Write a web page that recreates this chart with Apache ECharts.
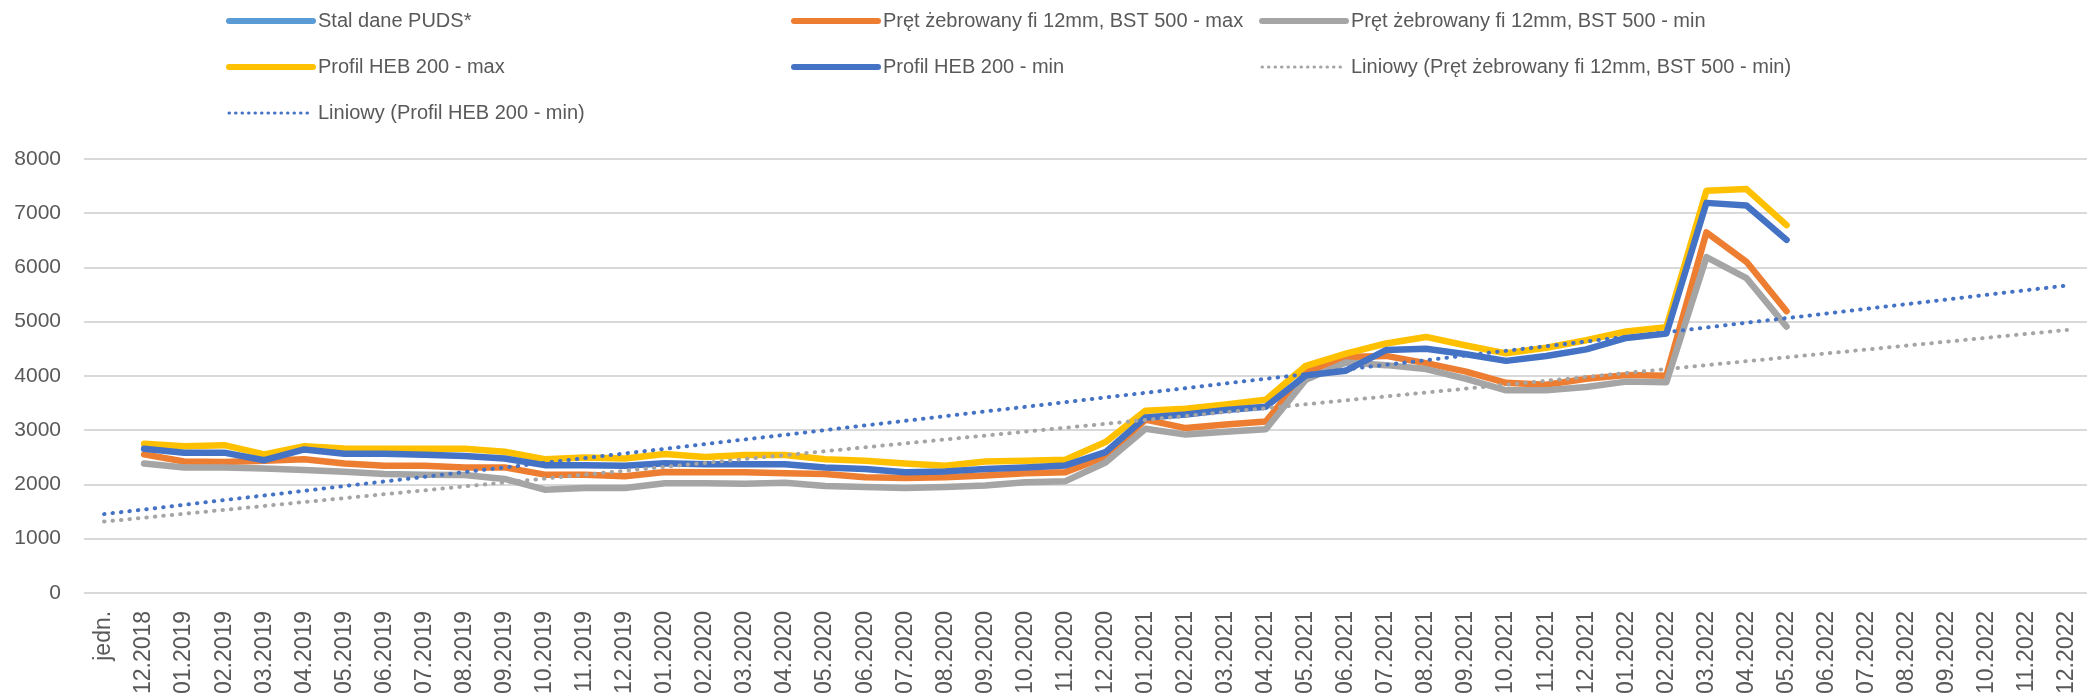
<!DOCTYPE html>
<html>
<head>
<meta charset="utf-8">
<script src="https://cdn.jsdelivr.net/npm/echarts@6/dist/echarts.min.js"></script>
<style>
  html, body { margin: 0; padding: 0; background: #fff; }
  #chart { width: 2087px; height: 697px; }
</style>
</head>
<body>
<div id="chart"></div>
<script>
// kategorie osi X
const months = [
  "jedn.", "12.2018",
  "01.2019", "02.2019", "03.2019", "04.2019", "05.2019", "06.2019",
  "07.2019", "08.2019", "09.2019", "10.2019", "11.2019", "12.2019",
  "01.2020", "02.2020", "03.2020", "04.2020", "05.2020", "06.2020",
  "07.2020", "08.2020", "09.2020", "10.2020", "11.2020", "12.2020",
  "01.2021", "02.2021", "03.2021", "04.2021", "05.2021", "06.2021",
  "07.2021", "08.2021", "09.2021", "10.2021", "11.2021", "12.2021",
  "01.2022", "02.2022", "03.2022", "04.2022", "05.2022", "06.2022",
  "07.2022", "08.2022", "09.2022", "10.2022", "11.2022", "12.2022",
];

// serie (od 12.2018 do 05.2022, "jedn." puste)
const stalPuds = [];
const pretMax = [null,
  2554, 2421, 2415, 2434, 2464, 2385, 2343, 2343, 2313, 2313, 2180, 2180, 2150,
  2230, 2222, 2222, 2204, 2192, 2132, 2120, 2132, 2162, 2204, 2223, 2510,
  3195, 3038, 3105, 3159, 4065, 4350, 4369, 4236, 4079, 3873, 3837, 3946,
  4015, 4005, 6648, 6105, 5194];
const pretMin = [null,
  2385, 2313, 2313, 2295, 2264, 2234, 2192, 2180, 2174, 2101, 1902, 1932, 1932,
  2020, 2023, 2011, 2029, 1969, 1950, 1932, 1950, 1981, 2041, 2060, 2404,
  3026, 2918, 2972, 3017, 3930, 4246, 4199, 4127, 3946, 3734, 3734, 3795,
  3895, 3885, 6190, 5803, 4910];
const hebMax = [null,
  2750, 2705, 2723, 2554, 2705, 2663, 2657, 2657, 2657, 2603, 2464, 2494, 2476,
  2560, 2506, 2542, 2542, 2464, 2434, 2385, 2343, 2421, 2434, 2455, 2780,
  3360, 3395, 3473, 3560, 4186, 4410, 4598, 4719, 4562, 4417, 4520, 4659,
  4820, 4900, 7415, 7445, 6781];
const hebMin = [null,
  2657, 2585, 2585, 2446, 2645, 2566, 2566, 2548, 2524, 2476, 2355, 2355, 2343,
  2390, 2373, 2373, 2373, 2313, 2283, 2222, 2240, 2283, 2313, 2350, 2595,
  3235, 3290, 3370, 3431, 4010, 4096, 4477, 4501, 4399, 4278, 4369, 4489,
  4700, 4780, 7191, 7143, 6509];

// linie trendu: wartosc na poczatku (jedn.) i na koncu (12.2022)
const trendPretMin = [1314, 4848];
const trendHebMin = [1452, 5668];

// etykiety osi Y
const yTicks = [0, 1000, 2000, 3000, 4000, 5000, 6000, 7000, 8000];

const names = {
  stal: "Stal dane PUDS*",
  pretMax: "Pręt żebrowany fi 12mm, BST 500 - max",
  pretMin: "Pręt żebrowany fi 12mm, BST 500 - min",
  hebMax: "Profil HEB 200 - max",
  hebMin: "Profil HEB 200 - min",
  trendPret: "Liniowy (Pręt żebrowany fi 12mm, BST 500 - min)",
  trendHeb: "Liniowy (Profil HEB 200 - min)",
};

const FONT = "Liberation Sans";
const TXT = "#595959";
const LINE_W = 6.5;

const chart = echarts.init(document.getElementById("chart"));

const lineSeries = (name, data, color) => ({
  name,
  type: "line",
  data,
  color,
  symbol: "none",
  lineStyle: { width: LINE_W, color, cap: "round", join: "round" },
});

const trendSeries = (name, pair, color) => ({
  name,
  type: "line",
  data: [
    [months[0], pair[0]],
    [months[months.length - 1], pair[1]],
  ],
  color,
  symbol: "none",
  z: 3,
  lineStyle: { width: 4, color, type: [0.5, 8], cap: "round" },
});

// wpisy legendy: gruba linia dla serii, kropki dla trendu
const solidItem = (name) => ({
  name,
  itemStyle: { opacity: 0 },
  lineStyle: { width: 6, cap: "round" },
});
const dottedItem = (name) => ({
  name,
  itemStyle: { opacity: 0 },
  lineStyle: { width: 3, type: [0.5, 6], cap: "round" },
});

const legendBase = {
  orient: "vertical",
  top: 6,
  itemWidth: 84,
  itemHeight: 20,
  itemGap: 26,
  selectedMode: false,
  textStyle: { fontFamily: FONT, fontSize: 20, color: TXT, lineHeight: 20 },
};

const options = {
  animation: false,
  legend: [
    Object.assign({}, legendBase, {
      left: 221,
      data: [solidItem(names.stal), solidItem(names.hebMax), dottedItem(names.trendHeb)],
    }),
    Object.assign({}, legendBase, {
      left: 786,
      data: [solidItem(names.pretMax), solidItem(names.hebMin)],
    }),
    Object.assign({}, legendBase, {
      left: 1254,
      data: [solidItem(names.pretMin), dottedItem(names.trendPret)],
    }),
  ],
  grid: {
    left: 84,
    top: 159,
    width: 2020,
    height: 442,
  },
  xAxis: {
    type: "category",
    data: months,
    boundaryGap: true,
    axisLine: { show: false },
    axisTick: { show: false },
    axisLabel: {
      interval: 0,
      rotate: 90,
      margin: 18,
      fontFamily: FONT,
      fontSize: 23,
      color: TXT,
    },
  },
  yAxis: {
    type: "value",
    min: yTicks[0],
    max: yTicks[yTicks.length - 1],
    interval: 1000,
    axisLine: { show: false },
    axisTick: { show: false },
    axisLabel: {
      margin: 23,
      fontFamily: FONT,
      fontSize: 21,
      color: TXT,
      formatter: (v) => String(v),
    },
    splitLine: { lineStyle: { color: "#D9D9D9", width: 2 } },
  },
  series: [
    lineSeries(names.stal, stalPuds, "#5B9BD5"),
    lineSeries(names.pretMax, pretMax, "#ED7D31"),
    lineSeries(names.pretMin, pretMin, "#A5A5A5"),
    lineSeries(names.hebMax, hebMax, "#FFC000"),
    lineSeries(names.hebMin, hebMin, "#4472C4"),
    trendSeries(names.trendPret, trendPretMin, "#A5A5A5"),
    trendSeries(names.trendHeb, trendHebMin, "#4472C4"),
  ],
};

chart.setOption(options);
</script>
</body>
</html>
